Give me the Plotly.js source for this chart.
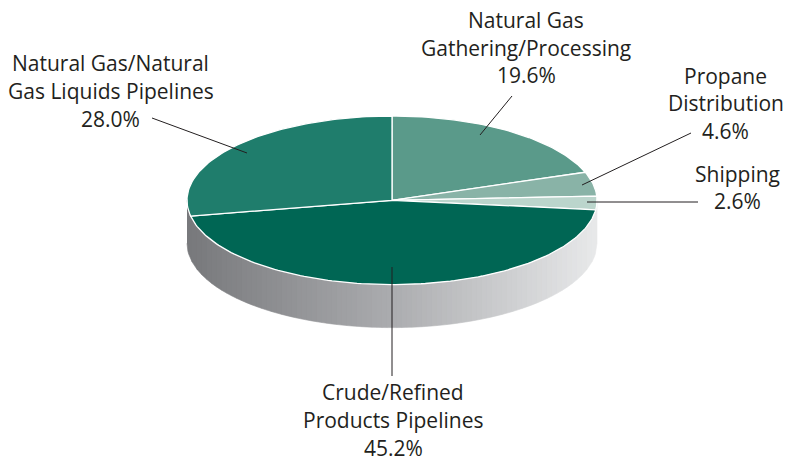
<!DOCTYPE html>
<html>
<head>
<meta charset="utf-8">
<script src="https://cdn.plot.ly/plotly-3.0.1.min.js"></script>
<style>html,body{margin:0;padding:0;background:#fff}</style>
</head>
<body>
<div id="chart" style="width:786px;height:462px"></div>
<script>
// Data
const categories = ["Natural Gas Gathering/Processing", "Propane Distribution", "Shipping", "Crude/Refined Products Pipelines", "Natural Gas/Natural Gas Liquids Pipelines"];
const shares = [19.6, 4.6, 2.6, 45.2, 28.0];
const sliceColors = ["#5a9a8a", "#89b3a7", "#bbd5cc", "#006654", "#1f7d6c"];
const labelLines = [
  ["Natural Gas", "Gathering/Processing", "19.6%"],
  ["Propane", "Distribution", "4.6%"],
  ["Shipping", "2.6%"],
  ["Crude/Refined", "Products Pipelines", "45.2%"],
  ["Natural Gas/Natural", "Gas Liquids Pipelines", "28.0%"]
];

// Layout of the drawing (in the pixel-sized axes)
const cx = 392, cy = 200.3, rx = 205, ry = 84.3, depth = 43;
const labelX = [526, 725.5, 737, 393, 110.5];
const labelY = [[20, 47.5, 75], [76, 103, 131], [174, 201], [392, 420, 448], [63, 91, 119]];
const leaders = [
  [[512, 96], [480, 135]],
  [[691, 133], [582, 185]],
  [[698, 202], [587, 202]],
  [[392, 376], [392, 267]],
  [[152, 118], [247, 153]]
];
const wallStops = [[0x77, 0x78, 0x7b], [0xab, 0xac, 0xaf], [0xe8, 0xe9, 0xea]];

const traces = [];

// Side wall: vertical strips carrying the left-to-right gradient
const stripCount = 82;
function lowerEdge(x) {
  const u = Math.max(-1, Math.min(1, (x - cx) / rx));
  return cy + ry * Math.sqrt(1 - u * u);
}
function wallColor(f) {
  const p = f * (wallStops.length - 1), i = Math.min(Math.floor(p), wallStops.length - 2), t = p - i;
  const c = wallStops[i].map((v, k) => Math.round(v + (wallStops[i + 1][k] - v) * t));
  return `rgb(${c[0]},${c[1]},${c[2]})`;
}
for (let s = 0; s < stripCount; s++) {
  const x0 = cx - rx + 2 * rx * s / stripCount, x1 = cx - rx + 2 * rx * (s + 1) / stripCount;
  const xs = [], top = [], bottom = [];
  for (let k = 0; k <= 6; k++) {
    const x = x0 + (x1 - x0) * k / 6;
    xs.push(x); top.push(lowerEdge(x)); bottom.push(lowerEdge(x) + depth);
  }
  const col = wallColor((s + 0.5) / stripCount);
  traces.push({
    x: xs.concat(xs.slice().reverse()),
    y: top.concat(bottom.slice().reverse()),
    mode: "lines", fill: "toself", fillcolor: col,
    line: {color: col, width: 0.6}, hoverinfo: "skip", showlegend: false
  });
}

// Top face: wedges from the shares, clockwise from twelve o'clock
const total = shares.reduce((a, b) => a + b, 0);
let running = 0;
shares.forEach((v, i) => {
  const a0 = running / total * 2 * Math.PI;
  running += v;
  const a1 = running / total * 2 * Math.PI;
  const xs = [cx], ys = [cy], n = Math.max(8, Math.ceil(v * 3));
  for (let k = 0; k <= n; k++) {
    const a = a0 + (a1 - a0) * k / n;
    xs.push(cx + rx * Math.sin(a));
    ys.push(cy - ry * Math.cos(a));
  }
  xs.push(cx); ys.push(cy);
  traces.push({
    x: xs, y: ys, name: categories[i], text: v + "%",
    mode: "lines", fill: "toself", fillcolor: sliceColors[i],
    line: {color: "#ffffff", width: 1.3}, hoverinfo: "name+text", showlegend: false
  });
});

// Leader lines
leaders.forEach(l => traces.push({
  x: l.map(p => p[0]), y: l.map(p => p[1]),
  mode: "lines", line: {color: "#231f20", width: 1}, hoverinfo: "skip", showlegend: false
}));

// Labels
const annotations = [];
labelLines.forEach((lines, i) => lines.forEach((t, j) => annotations.push({
  x: labelX[i], y: labelY[i][j], xref: "x", yref: "y", text: t, showarrow: false,
  xanchor: "center", yanchor: "middle",
  font: {family: "'Open Sans', 'Noto Sans', sans-serif", size: 21, color: "#231f20"}
})));

const hidden = {range: [0, 786], visible: false, fixedrange: true};
Plotly.newPlot("chart", traces, {
  width: 786, height: 462,
  margin: {l: 0, r: 0, t: 0, b: 0},
  paper_bgcolor: "#ffffff", plot_bgcolor: "#ffffff",
  xaxis: hidden,
  yaxis: Object.assign({}, hidden, {range: [462, 0]}),
  showlegend: false,
  annotations: annotations
}, {displayModeBar: false, staticPlot: false});
</script>
</body>
</html>
